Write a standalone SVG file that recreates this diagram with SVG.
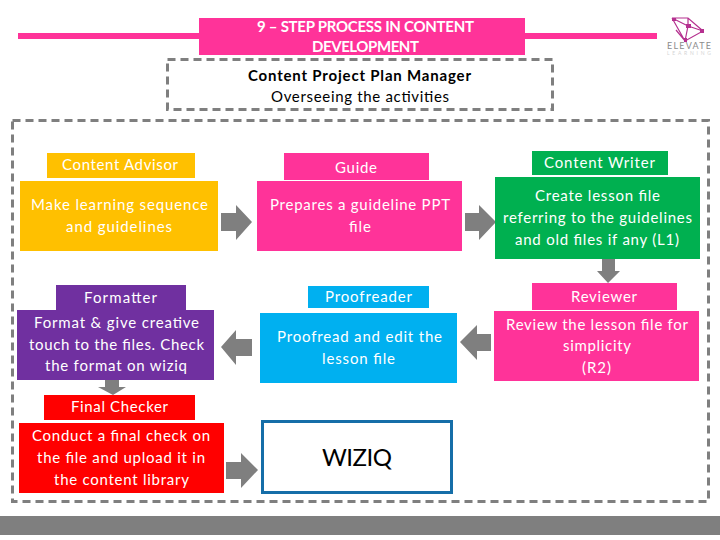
<svg xmlns="http://www.w3.org/2000/svg" width="720" height="540" viewBox="0 0 720 540">
<style>
text{font-family:"Lato","Open Sans","Liberation Sans",sans-serif;font-size:15px;text-anchor:middle;fill:#fff}
.k{fill:#000}
.dash{fill:none;stroke:#7f7f7f;stroke-width:3;stroke-dasharray:8 5}
.arrow{fill:#7f7f7f}
.pink{fill:#ff3399}.amber{fill:#ffc000}.green{fill:#00b050}.blue{fill:#00b0f0}.purple{fill:#7030a0}.red{fill:#ff0000}
</style>
<rect x="0" y="516" width="720" height="19" fill="#7f7f7f"/>
<rect x="18" y="33" width="639" height="6" class="pink"/>
<g id="title"><rect x="199" y="18" width="326" height="37" class="pink"/>
<text x="365.500" y="32" font-weight="700" textLength="217">9 – STEP PROCESS IN CONTENT</text><text x="365.500" y="52" font-weight="700" textLength="107">DEVELOPMENT</text></g>
<g id="logo" fill="none" stroke="#b5308f" stroke-width="1.200">
<path d="M672 18L688 18L703 31L685 41L672 18M672 18L688 26L703 31M688 18L688 26L685 41L676 30"/>
<path d="M672 18h4v3h-4zM686 24h5v4h-5zM700 29h4v4h-4zM684 38h3v4h-3z" fill="#b5308f" stroke="none"/>
<text x="689" y="49" textLength="44" style="font-size:9px;fill:#8c8c8c;stroke:none">ELEVATE</text>
<text x="689" y="55" textLength="44" style="font-size:5px;fill:#d5d5d5;stroke:none">LEARNING</text></g>
<g id="manager"><rect x="167.500" y="59.500" width="385" height="50" class="dash"/>
<text x="359.500" y="81" font-weight="700" class="k" textLength="223">Content Project Plan Manager</text><text x="360" y="102" class="k" textLength="178">Overseeing the activities</text></g>
<rect id="frame" x="12.500" y="120.500" width="696" height="381" class="dash"/>
<g id="connectors" class="arrow">
<path d="M221 213H236V205L252 222L236 240V231H221Z"/>
<path d="M465 213H479V205L496 222L479 240V231H465Z"/>
<path d="M602 257H615V271H620L608 283L597 271H602Z"/>
<path d="M491 334H477V325L460 342L477 360V351H491Z"/>
<path d="M252 339H236V330L221 347L236 365V356H252Z"/>
<path d="M105 379H119V387H126L113 395L98 387H105Z"/>
<path d="M226 462H241V453L258 470L241 488V479H226Z"/>
</g>
<g id="advisor"><rect x="47" y="153" width="148" height="25" class="amber"/><text x="120" y="170" textLength="116">Content Advisor</text>
<rect x="20" y="181" width="198" height="70" class="amber"/><text x="119.500" y="210" textLength="177">Make learning sequence</text><text x="119" y="232" textLength="106">and guidelines</text></g>
<g id="guide"><rect x="284" y="153" width="145" height="27" class="pink"/><text x="356" y="173" textLength="42">Guide</text>
<rect x="257" y="181" width="205" height="70" class="pink"/><text x="360" y="210" textLength="180">Prepares a guideline PPT</text><text x="360" y="232" textLength="22">file</text></g>
<g id="writer"><rect x="532" y="151" width="136" height="24" class="green"/><text x="599.500" y="168" textLength="111">Content Writer</text>
<rect x="495" y="177" width="205" height="82" class="green"/><text x="597.500" y="201" textLength="125">Create lesson file</text><text x="597.500" y="223" textLength="189">referring to the guidelines</text><text x="597" y="245" textLength="164">and old files if any (L1)</text></g>
<g id="reviewer"><rect x="532" y="283" width="145" height="27" class="pink"/><text x="604" y="302" textLength="66">Reviewer</text>
<rect x="494" y="311" width="205" height="70" class="pink"/><text x="597" y="330" textLength="182">Review the lesson file for</text><text x="597" y="351" textLength="68">simplicity</text><text x="596.500" y="373" textLength="29">(R2)</text></g>
<g id="proofreader"><rect x="308" y="286" width="121" height="22" class="blue"/><text x="368.500" y="302" textLength="87">Proofreader</text>
<rect x="260" y="313" width="197" height="70" class="blue"/><text x="359.500" y="342" textLength="165">Proofread and edit the</text><text x="358.500" y="364" textLength="73">lesson file</text></g>
<g id="formatter"><rect x="56" y="285" width="130" height="25" class="purple"/><text x="120.500" y="303" textLength="73">Formatter</text>
<rect x="17" y="310" width="197" height="70" class="purple"/><text x="116.500" y="328" textLength="165">Format &amp; give creative</text><text x="116.500" y="350" textLength="175">touch to the files. Check</text><text x="116" y="371" textLength="142">the format on wiziq</text></g>
<g id="checker"><rect x="44" y="395" width="151" height="25" class="red"/><text x="119.500" y="412" textLength="97">Final Checker</text>
<rect x="19" y="423" width="205" height="70" class="red"/><text x="121" y="441" textLength="178">Conduct a final check on</text><text x="121" y="463" textLength="168">the file and upload it in</text><text x="121.500" y="485" textLength="135">the content library</text></g>
<g id="wiziq"><rect x="262.500" y="421.500" width="189" height="71" fill="#fff" stroke="#156ea8" stroke-width="3"/><text x="357" y="466" class="k" textLength="70" style="font-size:24px">WIZIQ</text></g>
</svg>
